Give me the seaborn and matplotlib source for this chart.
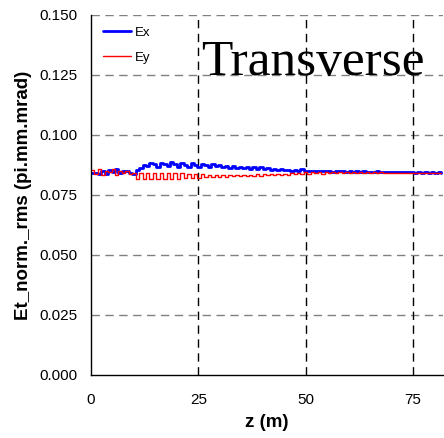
import matplotlib
matplotlib.use("Agg")
import matplotlib.pyplot as plt
import seaborn as sns
import numpy as np
import pandas as pd

# z positions (m), step of 0.8 m
z = [round(0.8 * k, 1) for k in range(103)]

ex = [0.0840, 0.0842, 0.0838, 0.0850, 0.0836, 0.0855, 0.0845, 0.0858, 0.0840, 0.0852,
      0.0848, 0.0840, 0.0838, 0.0855, 0.0862, 0.0875, 0.0870, 0.0885, 0.0880, 0.0868,
      0.0885, 0.0878, 0.0870, 0.0886, 0.0880, 0.0868, 0.0884, 0.0876, 0.0867, 0.0882,
      0.0875, 0.0866, 0.0880, 0.0874, 0.0865, 0.0878, 0.0872, 0.0874, 0.0866, 0.0872,
      0.0864, 0.0870, 0.0863, 0.0868, 0.0862, 0.0867, 0.0860, 0.0866, 0.0858, 0.0865,
      0.0857, 0.0862, 0.0856, 0.0858, 0.0855, 0.0860, 0.0853, 0.0856, 0.0852, 0.0855,
      0.0851, 0.0858, 0.0850, 0.0852, 0.0849, 0.0850, 0.0852, 0.0848, 0.0850, 0.0849,
      0.0847, 0.0849, 0.0848, 0.0850, 0.0847, 0.0849, 0.0846, 0.0848, 0.0847, 0.0849,
      0.0846, 0.0847, 0.0846, 0.0848, 0.0845, 0.0846, 0.0845, 0.0847, 0.0845, 0.0846,
      0.0844, 0.0845, 0.0844, 0.0845, 0.0843, 0.0844, 0.0843, 0.0845, 0.0843, 0.0844,
      0.0843, 0.0844, 0.0843]

ey = [0.0855, 0.0838, 0.0860, 0.0832, 0.0850, 0.0845, 0.0858, 0.0835, 0.0852, 0.0840,
      0.0848, 0.0836, 0.0842, 0.0817, 0.0843, 0.0817, 0.0843, 0.0816, 0.0842, 0.0816,
      0.0842, 0.0817, 0.0841, 0.0817, 0.0841, 0.0818, 0.0840, 0.0819, 0.0838, 0.0820,
      0.0836, 0.0822, 0.0836, 0.0823, 0.0835, 0.0824, 0.0835, 0.0826, 0.0834, 0.0827,
      0.0834, 0.0828, 0.0834, 0.0829, 0.0835, 0.0829, 0.0835, 0.0830, 0.0836, 0.0831,
      0.0836, 0.0832, 0.0837, 0.0833, 0.0838, 0.0834, 0.0839, 0.0835, 0.0840, 0.0836,
      0.0842, 0.0838, 0.0846, 0.0839, 0.0846, 0.0840, 0.0846, 0.0839, 0.0845, 0.0840,
      0.0846, 0.0840, 0.0845, 0.0841, 0.0845, 0.0841, 0.0845, 0.0842, 0.0844, 0.0842,
      0.0844, 0.0842, 0.0844, 0.0843, 0.0844, 0.0842, 0.0843, 0.0842, 0.0843, 0.0842,
      0.0843, 0.0842, 0.0843, 0.0842, 0.0843, 0.0842, 0.0843, 0.0842, 0.0843, 0.0842,
      0.0843, 0.0842, 0.0843]

x_ticks = [0, 25, 50, 75]
y_ticks = [0.000, 0.025, 0.050, 0.075, 0.100, 0.125, 0.150]
y_tick_labels = ["0.000", "0.025", "0.050", "0.075", "0.100", "0.125", "0.150"]

df = pd.DataFrame({"z": z, "Ex": ex, "Ey": ey})

sns.set_theme(style="white")
plt.rcParams["font.family"] = ["Liberation Sans", "DejaVu Sans"]
plt.rcParams["text.color"] = "black"
plt.rcParams["axes.labelcolor"] = "black"
plt.rcParams["xtick.color"] = "black"
plt.rcParams["ytick.color"] = "black"

fig = plt.figure(figsize=(4.44, 4.38), dpi=100)
ax = fig.add_axes([91 / 444, 63 / 438, 352 / 444, 360 / 438])

sns.lineplot(data=df, x="z", y="Ex", ax=ax, color="#0000ff", linewidth=2.0,
             drawstyle="steps-post", label="Ex")
sns.lineplot(data=df, x="z", y="Ey", ax=ax, color="#ff0000", linewidth=1.0,
             drawstyle="steps-post", label="Ey")

ax.set_xlim(0, 82)
ax.set_ylim(0, 0.150)
ax.set_xticks(x_ticks)
ax.set_yticks(y_ticks)
ax.set_yticklabels(y_tick_labels)

for yv in y_ticks[1:]:
    ax.axhline(yv, color="#808080", linestyle=(0, (6, 4)), linewidth=1.0, zorder=0)
for xv in x_ticks[1:]:
    ax.axvline(xv, color="black", linestyle=(0, (6, 4)), linewidth=1.0, zorder=0)

for s in ["top", "right"]:
    ax.spines[s].set_visible(False)
for s in ["left", "bottom"]:
    ax.spines[s].set_color("black")
    ax.spines[s].set_linewidth(1.0)

ax.tick_params(axis="both", direction="inout", length=8, width=1.0, colors="black",
               labelcolor="black", labelsize=11)
ax.tick_params(axis="y", pad=6)
ax.tick_params(axis="x", pad=9)

ax.set_xlabel("z (m)", fontsize=13.5, fontweight="bold", labelpad=5, color="black")
ax.set_ylabel("Et_norm._rms (pi.mm.mrad)", fontsize=13.5, fontweight="bold", labelpad=5,
              color="black")

leg = ax.legend(loc="upper left", frameon=False, fontsize=9.5, handlelength=2.1,
                labelspacing=0.95, borderaxespad=0.5, handletextpad=0.35,
                bbox_to_anchor=(0.0, 1.0))
for t in leg.get_texts():
    t.set_color("black")

ax.text(0.949, 0.833, "Transverse", transform=ax.transAxes, ha="right", va="baseline",
        fontsize=37, family=["Liberation Serif", "DejaVu Serif"], color="black")

fig.savefig("out.png", dpi=100, facecolor="white")
